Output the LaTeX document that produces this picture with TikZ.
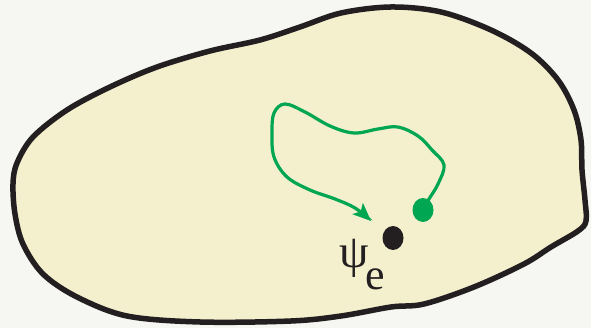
\documentclass[tikz,border=0pt]{standalone}
\usepackage{fontspec}
\setmainfont{Liberation Serif}
\usetikzlibrary{shapes.geometric,arrows.meta}
\definecolor{bgpaper}{RGB}{246,247,242}
\definecolor{cellfill}{RGB}{244,240,206}
\definecolor{rim}{RGB}{35,31,32}
\definecolor{pathgreen}{RGB}{0,166,81}
\begin{document}
\begin{tikzpicture}[x=1pt,y=-1pt]
    \tikzstyle{spot}=[ellipse,inner sep=0pt,minimum width=21pt,minimum height=24pt]
    \tikzstyle{trail}=[pathgreen,line width=3.2pt,-{Stealth[length=18pt,width=15pt,inset=4pt]}]
    \tikzstyle{greek}=[inner sep=0pt,text=rim]
    \fill[bgpaper] (0,0) rectangle (591,328);
    \useasboundingbox (0,0) rectangle (591,328);
    % the region
    \draw[rim,fill=cellfill,line width=5.5pt] plot[smooth cycle,tension=0.55] coordinates {
        (13,184) (17,163) (33,137) (67,110) (110,87) (157,67) (210,51) (260,40) (300,27)
        (341,13) (391,7) (441,12) (491,30) (531,53) (558,80) (574,110) (581,140) (582,170)
        (585,200) (586,221) (578,231) (551,247) (524,264) (474,287) (424,304) (391,307)
        (341,316) (291,321) (200,322) (127,316) (77,297) (43,274) (23,244) (15,214)};
    \node[spot,fill=rim] (ed) at (393,238) {};
    \node[spot,fill=pathgreen] (gd) at (423,210) {};
    \coordinate (tip) at (371,221);
    \node[greek,anchor=base west,font=\fontsize{47}{47}\selectfont] (psi) at (339,268) {ψ};
    \node[greek,anchor=base west,font=\fontsize{44}{44}\selectfont] (sub) at (365,290) {e};
    % the loop
    \draw[trail] plot[smooth,tension=0.6] coordinates {(gd.center) (429,199) (438,184) (444,165)
        (432,150) (418,136) (398,127) (378,129) (354,133) (330,126) (305,112) (285,104)
        (274,113) (272,133) (274,157) (287,177) (310,190) (335,199) (355,208) (tip)};
\end{tikzpicture}
\end{document}
